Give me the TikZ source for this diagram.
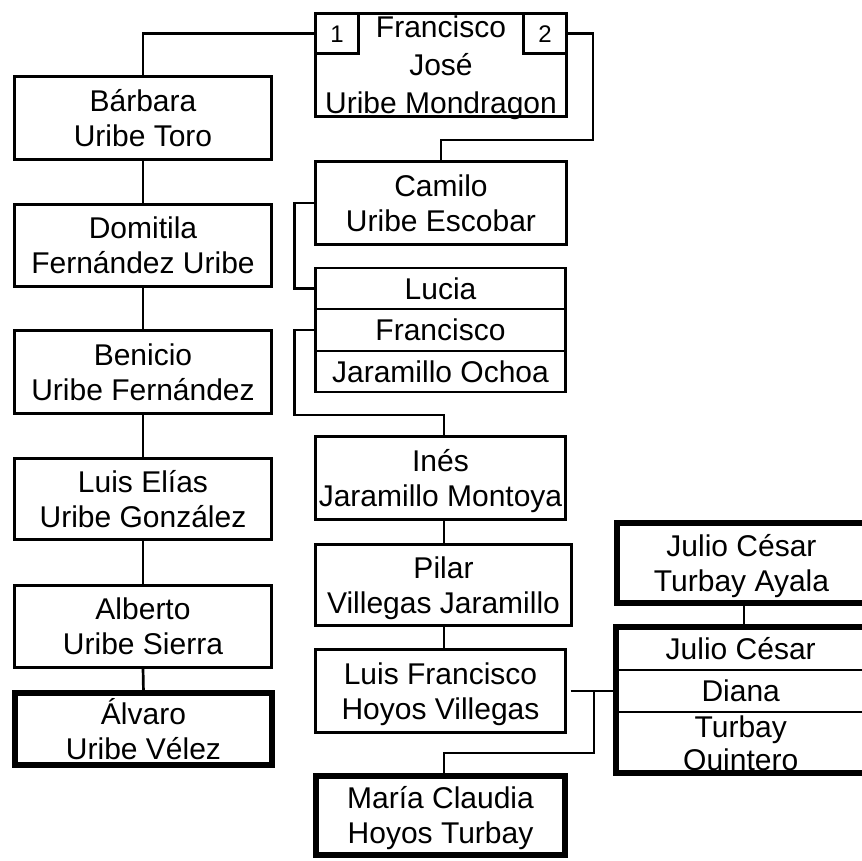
\documentclass[tikz,border=0pt]{standalone}
\usepackage{fontspec}
\setmainfont{Liberation Sans}
\begin{document}
\begin{tikzpicture}[x=1pt,y=-1pt,
  base/.style={draw, line width=2.7pt, inner sep=0pt, outer sep=0pt, align=center},
  box/.style={base, font=\fontsize{30}{35}\selectfont, text height=56pt, text depth=0pt},
  cell/.style={base, font=\fontsize{30}{35}\selectfont, text height=21pt, text depth=0pt},
  numcell/.style={base, font=\fontsize{24}{28}\selectfont, text height=17pt, text depth=0pt},
  heavy/.style={line width=6pt},
  link/.style={line width=2.7pt}]
\useasboundingbox (0,0) rectangle (862,860);

% top ancestor
\node[base, font=\fontsize{30}{38}\selectfont, text height=96pt, text depth=0pt,
      minimum width=251pt, minimum height=103pt] (fj) at (441,65) {Francisco\\José\\Uribe Mondragon};
\node[numcell, anchor=north west, minimum width=43pt, minimum height=40pt] (one) at (fj.north west) {1};
\node[numcell, anchor=north east, minimum width=43pt, minimum height=40pt] (two) at (fj.north east) {2};

% left column
\node[box, minimum width=257pt, minimum height=83pt] (barbara) at (143,118) {Bárbara\\Uribe Toro};
\node[box, minimum width=257pt, minimum height=82pt] (domitila) at (143,245.5) {Domitila\\Fernández Uribe};
\node[box, minimum width=257pt, minimum height=83pt] (benicio) at (143,372) {Benicio\\Uribe Fernández};
\node[box, minimum width=257pt, minimum height=81pt] (luiselias) at (143,499) {Luis Elías\\Uribe González};
\node[box, minimum width=257pt, minimum height=82pt] (alberto) at (143,626.5) {Alberto\\Uribe Sierra};
\node[box, heavy, text height=60pt, minimum width=257pt, minimum height=72pt] (alvaro) at (143.5,729) {Álvaro\\Uribe Vélez};

% middle column
\node[box, minimum width=251pt, minimum height=83pt] (camilo) at (441,203) {Camilo\\Uribe Escobar};
\node[cell, minimum width=250pt, minimum height=41pt] (lucia) at (440.5,288.5) {Lucia};
\node[cell, minimum width=250pt, minimum height=42pt] (fran) at (440.5,330) {Francisco};
\node[cell, minimum width=250pt, minimum height=41pt] (jocho) at (440.5,371.5) {Jaramillo Ochoa};
\node[box, minimum width=250pt, minimum height=83pt] (ines) at (440.5,478) {Inés\\Jaramillo Montoya};
\node[box, minimum width=256pt, minimum height=81pt] (pilar) at (443.5,585) {Pilar\\Villegas Jaramillo};
\node[box, minimum width=250pt, minimum height=83pt] (lf) at (440.5,691) {Luis Francisco\\Hoyos Villegas};
\node[box, heavy, minimum width=249pt, minimum height=79pt] (maria) at (440.5,815.5) {María Claudia\\Hoyos Turbay};

% right column
\node[box, heavy, minimum width=249pt, minimum height=80pt] (ayala) at (741.5,563) {Julio César\\Turbay Ayala};
\node[cell, minimum width=250.5pt, minimum height=43pt] (jc) at (740.75,648.5) {Julio César};
\node[cell, minimum width=250.5pt, minimum height=42pt] (diana) at (740.75,691) {Diana};
\node[base, font=\fontsize{30}{33}\selectfont, text height=55pt, text depth=0pt,
      minimum width=250.5pt, minimum height=61pt] (tq) at (740.75,742.5) {Turbay\\Quintero};
\draw[heavy] (jc.north west) rectangle (tq.south east);

% connectors
\coordinate (r1) at (593,140);
\coordinate (j1) at (444,415);
\coordinate (k1) at (594,753);
\coordinate (m1) at (744,0);
\draw[link] (one.west) -| (barbara.north);
\draw[link] (two.east) -| (r1) -| (camilo.north);
\draw[link] (barbara.south) -- (domitila.north);
\draw[link] (domitila.south) -- (benicio.north);
\draw[link] (benicio.south) -- (luiselias.north);
\draw[link] (luiselias.south) -- (alberto.north);
\draw[link] (alberto.south) -- (alvaro.north);
\draw[link] (camilo.west) -- ++(-21,0) |- (lucia.west);
\draw[link] (fran.west) -- ++(-21,0) |- (j1) -- (j1 |- ines.north);
\draw[link] (j1 |- ines.south) -- (j1 |- pilar.north);
\draw[link] (j1 |- pilar.south) -- (j1 |- lf.north);
\draw[link] ([xshift=5pt]lf.east) -- (diana.west);
\draw[link] (k1 |- diana.west) -- (k1) -| (j1 |- maria.north);
\draw[link] (m1 |- ayala.south) -- (m1 |- jc.north);
\end{tikzpicture}
\end{document}
